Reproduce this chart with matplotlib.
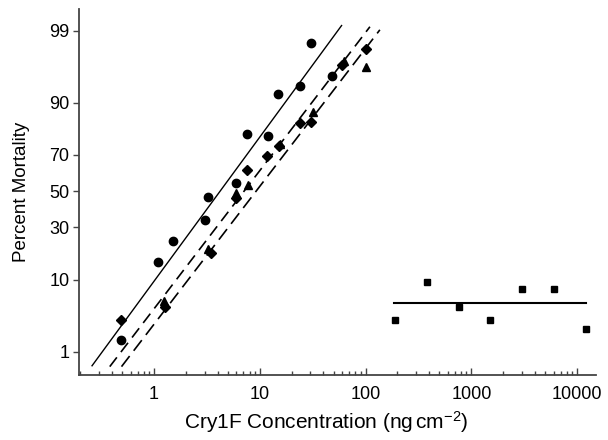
import numpy as np
import matplotlib
matplotlib.use("Agg")
import matplotlib.pyplot as plt
from matplotlib.ticker import FixedLocator, NullLocator, LogLocator, FuncFormatter, NullFormatter
from statistics import NormalDist

plt.rcParams["font.family"] = ["Liberation Sans", "DejaVu Sans"]
plt.rcParams["mathtext.fontset"] = "custom"
plt.rcParams["mathtext.rm"] = "Liberation Sans"
plt.rcParams["mathtext.it"] = "Liberation Sans:italic"

# concentration (ng/cm2) and percent mortality
circle_x = [0.49, 1.09, 1.51, 3.02, 3.24, 6.0, 7.5, 12.0, 14.9, 23.9, 30.4, 47.7]
circle_y = [1.55, 15.3, 23.5, 34.0, 46.5, 54.9, 79.5, 79.0, 92.0, 93.7, 98.4, 95.2]

diamond_x = [0.49, 1.27, 3.42, 6.0, 7.6, 11.6, 15.2, 23.9, 30.2, 60.0, 100.0]
diamond_y = [3.1, 4.6, 18.4, 46.0, 62.0, 69.5, 74.5, 83.7, 84.1, 96.6, 98.0]

triangle_x = [1.25, 3.25, 6.0, 7.7, 15.5, 31.9, 62.0, 100.0]
triangle_y = [5.6, 20.0, 49.0, 53.6, 75.5, 87.5, 97.0, 96.4]

square_x = [189, 378, 763, 1500, 3030, 6040, 12130]
square_y = [3.1, 9.3, 4.6, 3.1, 7.8, 7.8, 2.3]

# fitted probit lines (end points)
fit_solid_x = [0.259, 59.3]
fit_solid_y = [0.57, 99.18]
fit_dash1_x = [0.381, 109.9]
fit_dash1_y = [0.55, 99.14]
fit_dash2_x = [0.492, 136.5]
fit_dash2_y = [0.55, 99.03]
fit_square_x = [185, 12060]
fit_square_y = [5.3, 5.3]

y_ticks = [1, 10, 30, 50, 70, 90, 99]
x_ticks = [1, 10, 100, 1000, 10000]

ND = NormalDist()
_ppf = np.vectorize(ND.inv_cdf, otypes=[float])
_cdf = np.vectorize(ND.cdf, otypes=[float])


def probit(p):
    p = np.clip(np.asarray(p, dtype=float) / 100.0, 1e-9, 1 - 1e-9)
    return _ppf(p)


def inv_probit(z):
    return _cdf(np.asarray(z, dtype=float)) * 100.0


fig = plt.figure(figsize=(6.08, 4.40), dpi=100)
ax = fig.add_axes([79 / 608, 1 - 375 / 440, 517 / 608, 366 / 440])
ax.set_xscale("log")
ax.set_yscale("function", functions=(probit, inv_probit))

ax.plot(fit_solid_x, fit_solid_y, color="black", lw=1.0)
ax.plot(fit_dash1_x, fit_dash1_y, color="black", lw=1.2, dashes=(7, 4))
ax.plot(fit_dash2_x, fit_dash2_y, color="black", lw=1.2, dashes=(8, 4))
ax.plot(fit_square_x, fit_square_y, color="black", lw=1.5)

ax.plot(circle_x, circle_y, "o", color="black", ms=6, ls="none")
ax.plot(diamond_x, diamond_y, "D", color="black", ms=5.5, ls="none")
ax.plot(triangle_x, triangle_y, "^", color="black", ms=6, ls="none")
ax.plot(square_x, square_y, "s", color="black", ms=4.5, ls="none")

ax.set_xlim(0.195, 15100)
ax.set_ylim(0.386, 99.585)

ax.yaxis.set_major_locator(FixedLocator(y_ticks))
ax.yaxis.set_minor_locator(NullLocator())
ax.yaxis.set_major_formatter(FuncFormatter(lambda v, p: f"{v:g}"))

ax.xaxis.set_major_locator(FixedLocator(x_ticks))
ax.xaxis.set_minor_locator(LogLocator(base=10, subs=np.arange(2, 10)))
ax.xaxis.set_minor_formatter(NullFormatter())
ax.xaxis.set_major_formatter(FuncFormatter(lambda v, p: f"{v:g}"))

for s in ["top", "right"]:
    ax.spines[s].set_visible(False)
for s in ["left", "bottom"]:
    ax.spines[s].set_color("#444444")
    ax.spines[s].set_linewidth(1.3)

ax.tick_params(axis="y", which="major", direction="out", length=4, width=1, color="#444444",
               labelsize=13, pad=3)
ax.tick_params(axis="x", which="major", direction="in", length=5, width=1, color="#444444",
               labelsize=13, pad=8)
ax.tick_params(axis="x", which="minor", direction="in", length=3, width=1, color="#444444")

ax.set_xlabel("Cry1F Concentration (ng$\\,$cm$^{-2}$)", fontsize=15)
ax.xaxis.set_label_coords(0.479, -0.092)
ax.set_ylabel("Percent Mortality", fontsize=13.5, labelpad=14)

fig.savefig("out.png", dpi=100)
